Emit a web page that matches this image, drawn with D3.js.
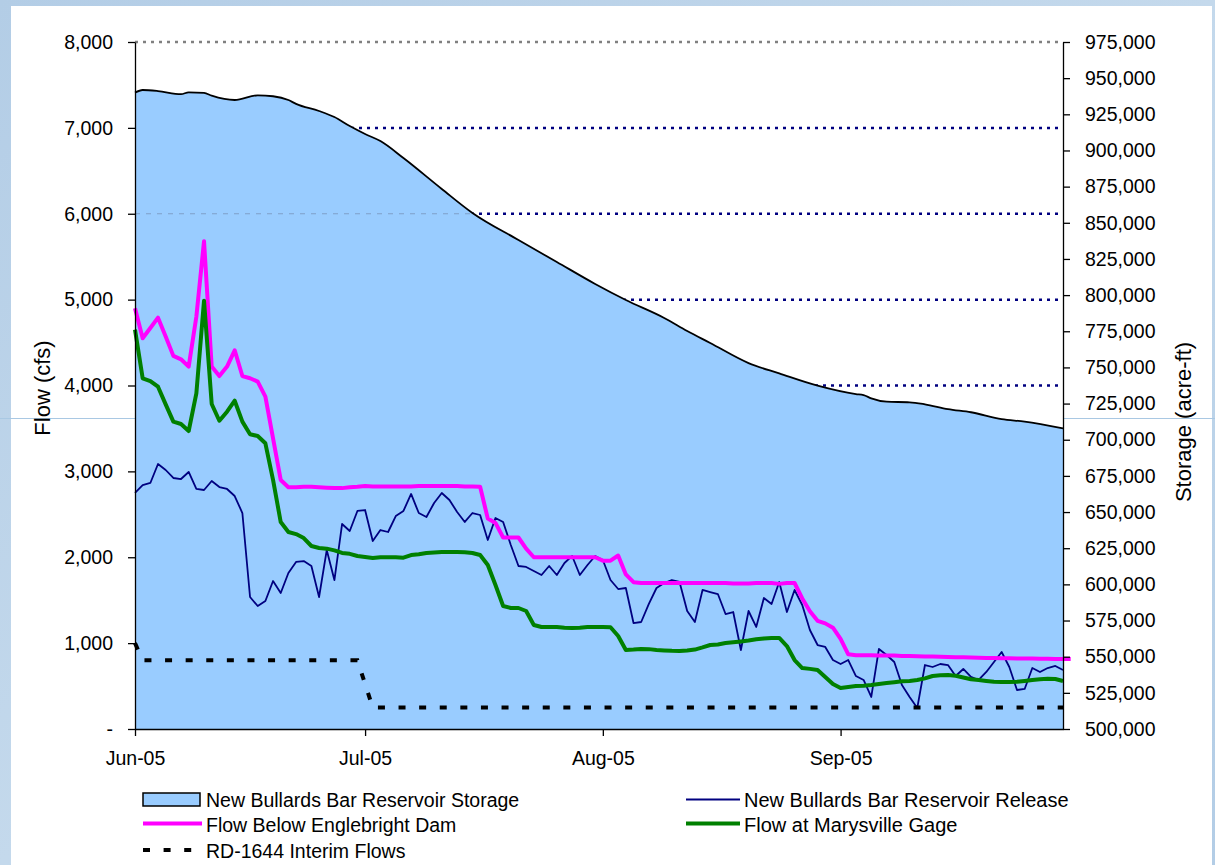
<!DOCTYPE html>
<html><head><meta charset="utf-8">
<script src="https://cdn.jsdelivr.net/npm/d3@7"></script>
<style>
html,body{margin:0;padding:0;background:#fff;}
svg{display:block;font-family:"Liberation Sans",Arial,sans-serif;}
</style></head>
<body>
<svg id="chart" width="1215" height="865"></svg>
<script>
// ---------- data ----------
const startDate = "2005-06-01";            // first day of the daily series
const endDate = "2005-09-30";
const monthTicks = ["2005-06-01","2005-07-01","2005-08-01","2005-09-01"];
const monthTickLabels = ["Jun-05","Jul-05","Aug-05","Sep-05"];
const flowTicks = [0,1000,2000,3000,4000,5000,6000,7000,8000];
const flowTickLabels = ["-","1,000","2,000","3,000","4,000","5,000","6,000","7,000","8,000"];
const storageTicks = [500000,525000,550000,575000,600000,625000,650000,675000,700000,725000,750000,775000,800000,825000,850000,875000,900000,925000,950000,975000];

const storageDates = ["2005-06-01","2005-06-02","2005-06-04","2005-06-07","2005-06-08","2005-06-10","2005-06-11","2005-06-14","2005-06-17","2005-06-19","2005-06-21","2005-06-22","2005-06-25","2005-06-27","2005-06-29","2005-07-01","2005-07-03","2005-07-06","2005-07-11","2005-07-15","2005-07-21","2005-07-26","2005-07-31","2005-08-04","2005-08-09","2005-08-12","2005-08-15","2005-08-20","2005-08-24","2005-08-29","2005-09-03","2005-09-04","2005-09-05","2005-09-07","2005-09-10","2005-09-12","2005-09-15","2005-09-18","2005-09-22","2005-09-25","2005-09-30"];
const storageValues = [940000,941800,941100,938900,940200,939800,937900,934900,938100,937500,934900,932200,927300,923100,916900,911400,906500,894800,873400,856800,838100,822900,807700,796600,784200,775200,766900,753000,745900,737400,731600,730900,728600,726300,725900,724500,721200,719000,714300,712500,707900];

const releaseValues = [2750,2840,2865,3086,3016,2923,2911,2993,2795,2783,2888,2818,2795,2713,2515,1537,1432,1490,1723,1584,1817,1945,1956,1898,1537,2084,1735,2387,2306,2539,
 2550,2189,2317,2294,2480,2539,2737,2515,2469,2632,2748,2667,2527,2411,2515,2492,2201,2457,2411,2143,1898,1887,1840,1793,1898,1793,1933,2015,1793,1910,2015,
 1968,1735,1630,1642,1234,1246,1456,1642,1700,1735,1712,1374,1246,1619,1595,1572,1339,1362,920,1374,1188,1525,1456,1712,1362,1619,1444,1153,978,955,803,
 757,803,617,571,373,932,862,780,512,373,245,745,722,757,745,617,699,606,571,664,780,897,722,454,466,710,664,710,734,687];

const englebrightValues = [4900,4550,4670,4790,4570,4345,4305,4220,4800,5680,4220,4110,4220,4410,4110,4085,4045,3870,3385,2900,2815,2815,2820,2820,2815,2810,2805,2805,2815,2820,
 2830,2825,2825,2825,2825,2825,2825,2830,2830,2830,2830,2830,2830,2825,2825,2820,2450,2400,2230,2230,2230,2100,2000,2000,2000,2000,2000,2000,2000,2000,2000,
 1960,1960,2020,1800,1710,1700,1700,1700,1700,1700,1700,1700,1700,1700,1700,1700,1700,1695,1695,1695,1700,1700,1700,1690,1700,1700,1520,1370,1260,1230,1180,1050,
 870,860,860,860,855,855,855,850,850,848,845,843,840,838,836,835,833,830,828,826,825,823,822,820,820,818,818,816,815,815];

const marysvilleValues = [4650,4084,4052,3986,3780,3579,3552,3470,3909,4988,3785,3590,3695,3823,3579,3432,3412,3327,2900,2410,2294,2270,2224,2131,2108,2100,2080,2050,2040,2015,
 2003,1991,2000,2000,2000,1995,2026,2035,2050,2055,2061,2061,2060,2058,2050,2026,1910,1677,1432,1409,1409,1374,1211,1188,1188,1188,1180,1176,1180,1188,1188,
 1188,1185,1083,920,925,932,930,920,915,910,908,915,925,950,978,985,1001,1010,1020,1030,1045,1055,1060,1060,966,803,710,700,687,606,524,
 477,490,500,505,512,525,535,545,555,560,570,590,617,625,629,620,600,580,571,560,550,547,547,550,560,570,580,585,582,559];

const rdDates = ["2005-06-01","2005-06-02","2005-06-30","2005-07-02","2005-09-30"];
const rdValues = [1000,800,800,250,250];

// ---------- setup ----------
const parse = d3.timeParse("%Y-%m-%d");
const svg = d3.select("#chart");
const W = 1215, H = 865;
const L = 135, R = 1063, T = 42, B = 729;

const x = d3.scaleTime().domain([parse(startDate), parse(endDate)]).range([L, R]);
const yL = d3.scaleLinear().domain([0, 8000]).range([B, T]);
const yR = d3.scaleLinear().domain([500000, 975000]).range([B, T]);

const daily = arr => arr.map((v, i) => ({ date: d3.timeDay.offset(parse(startDate), i), value: v }));
const storage = storageDates.map((d, i) => ({ date: parse(d), value: storageValues[i] }));
const rd = rdDates.map((d, i) => ({ date: parse(d), value: rdValues[i] }));

// slide background
const defs = svg.append("defs");
const g1 = defs.append("linearGradient").attr("id", "bg").attr("x1", 0).attr("x2", 1).attr("y1", 0).attr("y2", 1);
g1.append("stop").attr("offset", "0%").attr("stop-color", "#b3cde6");
g1.append("stop").attr("offset", "50%").attr("stop-color", "#c4d9ec");
g1.append("stop").attr("offset", "100%").attr("stop-color", "#b3cde6");
svg.append("rect").attr("width", W).attr("height", H).attr("fill", "url(#bg)");
svg.append("rect").attr("x", 11).attr("y", 6).attr("width", 1201).attr("height", H - 6).attr("fill", "#fff");
svg.append("line").attr("x1", 0).attr("x2", W).attr("y1", 418.5).attr("y2", 418.5)
  .attr("stroke", "#a9c8e3").attr("stroke-width", 1.2);

// plot area
svg.append("rect").attr("x", L).attr("y", T).attr("width", R - L).attr("height", B - T).attr("fill", "#fff");

// gridlines (behind the area)
svg.append("g").selectAll("line").data(flowTicks.filter(v => v > 0 && v < 8000)).join("line")
  .attr("x1", L).attr("x2", R).attr("y1", d => yL(d)).attr("y2", d => yL(d))
  .attr("stroke", "#000080").attr("stroke-width", 2.5).attr("stroke-dasharray", "3,5");
svg.append("line").attr("x1", L).attr("x2", R).attr("y1", yL(8000)).attr("y2", yL(8000))
  .attr("stroke", "#808080").attr("stroke-width", 2.5).attr("stroke-dasharray", "3,5");

// storage area
const area = d3.area().x(d => x(d.date)).y0(yR(500000)).y1(d => yR(d.value)).curve(d3.curveMonotoneX);
const areaD = area(storage);
defs.append("clipPath").attr("id", "areaClip").append("path").attr("d", areaD);
svg.append("path").attr("d", areaD).attr("fill", "#99ccff");
svg.append("line").attr("clip-path", "url(#areaClip)")
  .attr("x1", L).attr("x2", R).attr("y1", yL(6000)).attr("y2", yL(6000))
  .attr("stroke", "#7f9fc8").attr("stroke-width", 1).attr("stroke-dasharray", "5,6");
const sline = d3.line().x(d => x(d.date)).y(d => yR(d.value)).curve(d3.curveMonotoneX);
svg.append("path").attr("d", sline(storage)).attr("fill", "none").attr("stroke", "#000").attr("stroke-width", 1.8);

// flow lines
const fline = d3.line().x(d => x(d.date)).y(d => yL(d.value));
svg.append("path").attr("d", fline(daily(releaseValues))).attr("fill", "none")
  .attr("stroke", "#000080").attr("stroke-width", 1.8).attr("stroke-linejoin", "round");
svg.append("path").attr("d", fline(daily(englebrightValues))).attr("fill", "none")
  .attr("stroke", "#ff00ff").attr("stroke-width", 4).attr("stroke-linejoin", "round");
svg.append("path").attr("d", fline(daily(marysvilleValues))).attr("fill", "none")
  .attr("stroke", "#008000").attr("stroke-width", 4).attr("stroke-linejoin", "round");
svg.append("path").attr("d", fline(rd)).attr("fill", "none")
  .attr("stroke", "#000").attr("stroke-width", 4).attr("stroke-dasharray", "7,13.6");

// axes
const fs = "19.5px";
const styleAxis = g => {
  g.selectAll("path.domain").attr("stroke", "#000").attr("stroke-width", 1.3);
  g.selectAll(".tick line").attr("stroke", "#000").attr("stroke-width", 1.3);
  g.selectAll("text").attr("font-size", fs).attr("fill", "#000").attr("font-family", '"Liberation Sans",Arial,sans-serif');
};
svg.append("g").attr("transform", `translate(${L},0)`)
  .call(d3.axisLeft(yL).tickValues(flowTicks).tickFormat((d, i) => flowTickLabels[i]).tickSize(7).tickSizeOuter(0).tickPadding(15))
  .call(styleAxis);
svg.append("g").attr("transform", `translate(${R},0)`)
  .call(d3.axisRight(yR).tickValues(storageTicks).tickFormat(d3.format(",")).tickSize(7).tickSizeOuter(0).tickPadding(15))
  .call(styleAxis);
svg.append("g").attr("transform", `translate(0,${B})`)
  .call(d3.axisBottom(x).tickValues(monthTicks.map(parse)).tickFormat((d, i) => monthTickLabels[i]).tickSize(7).tickSizeOuter(0).tickPadding(15))
  .call(styleAxis);

// axis titles
svg.append("text").attr("transform", "translate(50,388) rotate(-90)").attr("text-anchor", "middle")
  .attr("font-size", "22px").text("Flow (cfs)");
svg.append("text").attr("transform", "translate(1191,422) rotate(-90)").attr("text-anchor", "middle")
  .attr("font-size", "22px").text("Storage (acre-ft)");

// legend
const leg = svg.append("g").attr("font-size", "19.5px");
leg.append("rect").attr("x", 143).attr("y", 793).attr("width", 57).attr("height", 13)
  .attr("fill", "#99ccff").attr("stroke", "#000").attr("stroke-width", 1.5);
leg.append("text").attr("x", 206).attr("y", 807).text("New Bullards Bar Reservoir Storage");
leg.append("line").attr("x1", 143).attr("x2", 202).attr("y1", 823.5).attr("y2", 823.5).attr("stroke", "#ff00ff").attr("stroke-width", 4);
leg.append("text").attr("x", 206).attr("y", 831.5).text("Flow Below Englebright Dam");
leg.append("line").attr("x1", 143).attr("x2", 195).attr("y1", 850).attr("y2", 850).attr("stroke", "#000").attr("stroke-width", 4).attr("stroke-dasharray", "7,13.6");
leg.append("text").attr("x", 206).attr("y", 857.5).text("RD-1644 Interim Flows");
leg.append("line").attr("x1", 686).attr("x2", 740).attr("y1", 799.5).attr("y2", 799.5).attr("stroke", "#000080").attr("stroke-width", 2);
leg.append("text").attr("x", 744).attr("y", 807).attr("font-size", "20px").text("New Bullards Bar Reservoir Release");
leg.append("line").attr("x1", 686).attr("x2", 740).attr("y1", 823.5).attr("y2", 823.5).attr("stroke", "#008000").attr("stroke-width", 4);
leg.append("text").attr("x", 744).attr("y", 831.5).attr("font-size", "20px").text("Flow at Marysville Gage");
</script>
</body></html>
